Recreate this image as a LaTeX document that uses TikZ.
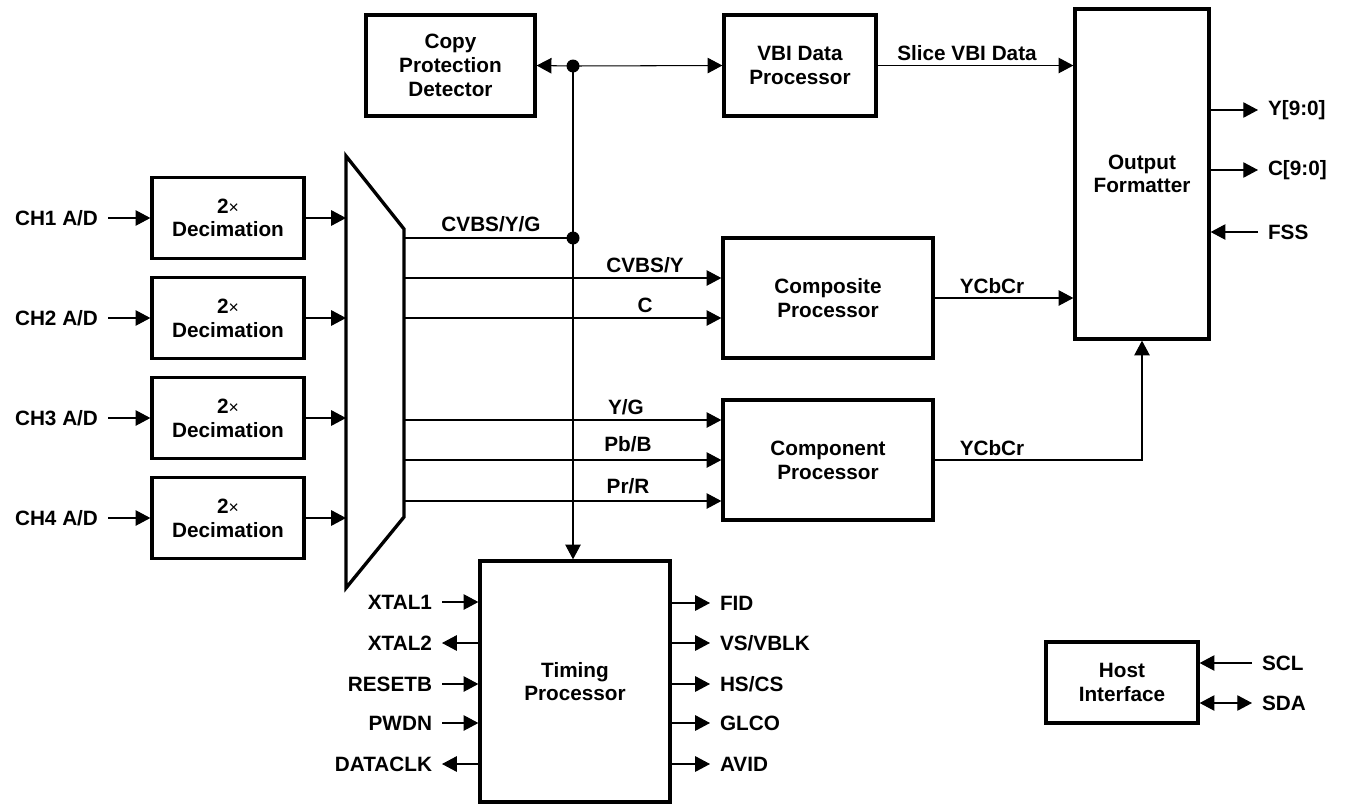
\documentclass[tikz,border=0pt]{standalone}
\usepackage{fontspec}
\setmainfont{Liberation Sans}
\usetikzlibrary{arrows.meta}

\begin{document}
\begin{tikzpicture}[x=0.02cm,y=-0.02cm,
    every node/.style={font=\fontsize{11.8}{13.5}\selectfont\bfseries},
    blk/.style={draw,line width=1.9pt,align=center,inner sep=0pt},
    sig/.style={line width=0.6pt,-{Triangle[length=8.4pt,width=8.8pt]}},
    sigb/.style={line width=0.6pt,{Triangle[length=8.4pt,width=8.8pt]}-{Triangle[length=8.4pt,width=8.8pt]}},
    pin/.style={inner xsep=5.5pt,inner ysep=1pt}]
  \useasboundingbox (0,0) rectangle (1346,805);
  \def\times{{\fontsize{10}{10}\selectfont\mdseries ×}}
  % blocks
  \node[blk,minimum width=3.38cm,minimum height=2.02cm] (cpd) at (450.5,65.5) {Copy\\Protection\\Detector};
  \node[blk,minimum width=3.04cm,minimum height=2.02cm] (vbi) at (800,65.5) {VBI Data\\Processor};
  \node[blk,minimum width=2.68cm,minimum height=6.6cm] (fmt) at (1142,174) {Output\\Formatter};
  \node[blk,minimum width=3.04cm,minimum height=1.62cm] (dec1) at (228,218) {2\times\\Decimation};
  \node[blk,minimum width=3.04cm,minimum height=1.62cm] (dec2) at (228,318) {2\times\\Decimation};
  \node[blk,minimum width=3.04cm,minimum height=1.62cm] (dec3) at (228,418) {2\times\\Decimation};
  \node[blk,minimum width=3.04cm,minimum height=1.62cm] (dec4) at (228,518) {2\times\\Decimation};
  \node[blk,minimum width=4.2cm,minimum height=2.4cm] (comp) at (828,298) {Composite\\Processor};
  \node[blk,minimum width=4.2cm,minimum height=2.4cm] (cpt) at (828,460) {Component\\Processor};
  \node[blk,minimum width=3.8cm,minimum height=4.82cm] (tim) at (575,681.5) {Timing\\Processor};
  \node[blk,minimum width=3.04cm,minimum height=1.62cm] (host) at (1122,682.5) {Host\\Interface};
  % input mux
  \coordinate (muxa) at (346,156);
  \coordinate (muxb) at (404,229);
  \coordinate (muxc) at (404,517);
  \coordinate (muxd) at (346,588);
  \draw[line width=1.9pt,line join=miter] (muxa) -- (muxb) -- (muxc) -- (muxd) -- cycle;
  % channel inputs
  \node[pin,anchor=east] (ch1) at (108,218) {CH1 A/D};
  \node[pin,anchor=east] (ch2) at (108,318) {CH2 A/D};
  \node[pin,anchor=east] (ch3) at (108,418) {CH3 A/D};
  \node[pin,anchor=east] (ch4) at (108,518) {CH4 A/D};
  \draw[sig] (ch1.east) -- (dec1.west);
  \draw[sig] (ch2.east) -- (dec2.west);
  \draw[sig] (ch3.east) -- (dec3.west);
  \draw[sig] (ch4.east) -- (dec4.west);
  \draw[sig] (dec1.east) -- (dec1.east -| muxa);
  \draw[sig] (dec2.east) -- (dec2.east -| muxa);
  \draw[sig] (dec3.east) -- (dec3.east -| muxa);
  \draw[sig] (dec4.east) -- (dec4.east -| muxa);
  % mux outputs
  \coordinate (mo1) at (404,238);
  \coordinate (mo2) at (404,278);
  \coordinate (mo3) at (404,318);
  \coordinate (mo4) at (404,420);
  \coordinate (mo5) at (404,460);
  \coordinate (mo6) at (404,501);
  \coordinate (j1) at (573,66);
  \coordinate (j2) at (573,238);
  \draw[line width=0.6pt] (mo1) -- (j2);
  \draw[sig] (mo2) -- (mo2 -| comp.west);
  \draw[sig] (mo3) -- (mo3 -| comp.west);
  \draw[sig] (mo4) -- (mo4 -| cpt.west);
  \draw[sig] (mo5) -- (mo5 -| cpt.west);
  \draw[sig] (mo6) -- (mo6 -| cpt.west);
  \node (lyg) at (491,224) {CVBS/Y/G};
  \node (lcy) at (645,265) {CVBS/Y};
  \node (lc) at (645,305) {C};
  \node (lyc) at (626,407) {Y/G};
  \node (lpb) at (628,444) {Pb/B};
  \node (lpr) at (628,486) {Pr/R};
  % sync bus
  \draw[sig] (j1) -- (j1 |- tim.north);
  \draw[sig] (j1) -- (cpd.east);
  \draw[sig] (j1) -- (vbi.west);
  \fill (j1) circle (0.13cm);
  \fill (j2) circle (0.13cm);
  % into the formatter
  \draw[sig] (vbi.east) -- (vbi.east -| fmt.west);
  \draw[sig] (comp.east) -- (comp.east -| fmt.west);
  \draw[sig] (cpt.east) -| (fmt.south);
  \node (lslice) at (967,53) {Slice VBI Data};
  \node (lycc1) at (992,286) {YCbCr};
  \node (lycc2) at (992,448) {YCbCr};
  \node[pin,anchor=west] (yout) at (1258,110) {Y[9:0]};
  \node[pin,anchor=west] (cout) at (1258,170) {C[9:0]};
  \node[pin,anchor=west] (fss) at (1258,232) {FSS};
  \draw[sig] (yout.west -| fmt.east) -- (yout.west);
  \draw[sig] (cout.west -| fmt.east) -- (cout.west);
  \draw[sig] (fss.west) -- (fss.west -| fmt.east);
  % timing pins
  \node[pin,anchor=east] (xtal1) at (442,602) {XTAL1};
  \node[pin,anchor=east] (xtal2) at (442,643) {XTAL2};
  \node[pin,anchor=east] (resetb) at (442,684) {RESETB};
  \node[pin,anchor=east] (pwdn) at (442,723) {PWDN};
  \node[pin,anchor=east] (dataclk) at (442,764) {DATACLK};
  \draw[sig] (xtal1.east) -- (xtal1.east -| tim.west);
  \draw[sig] (xtal2.east -| tim.west) -- (xtal2.east);
  \draw[sig] (resetb.east) -- (resetb.east -| tim.west);
  \draw[sig] (pwdn.east) -- (pwdn.east -| tim.west);
  \draw[sig] (dataclk.east -| tim.west) -- (dataclk.east);
  \node[pin,anchor=west] (fid) at (710,603) {FID};
  \node[pin,anchor=west] (vs) at (710,643) {VS/VBLK};
  \node[pin,anchor=west] (hs) at (710,684) {HS/CS};
  \node[pin,anchor=west] (glco) at (710,723) {GLCO};
  \node[pin,anchor=west] (avid) at (710,764) {AVID};
  \draw[sig] (fid.west -| tim.east) -- (fid.west);
  \draw[sig] (vs.west -| tim.east) -- (vs.west);
  \draw[sig] (hs.west -| tim.east) -- (hs.west);
  \draw[sig] (glco.west -| tim.east) -- (glco.west);
  \draw[sig] (avid.west -| tim.east) -- (avid.west);
  % host port
  \node[pin,anchor=west] (scl) at (1252,663) {SCL};
  \node[pin,anchor=west] (sda) at (1252,703) {SDA};
  \draw[sig] (scl.west) -- (scl.west -| host.east);
  \draw[sigb] (sda.west -| host.east) -- (sda.west);
\end{tikzpicture}
\end{document}
